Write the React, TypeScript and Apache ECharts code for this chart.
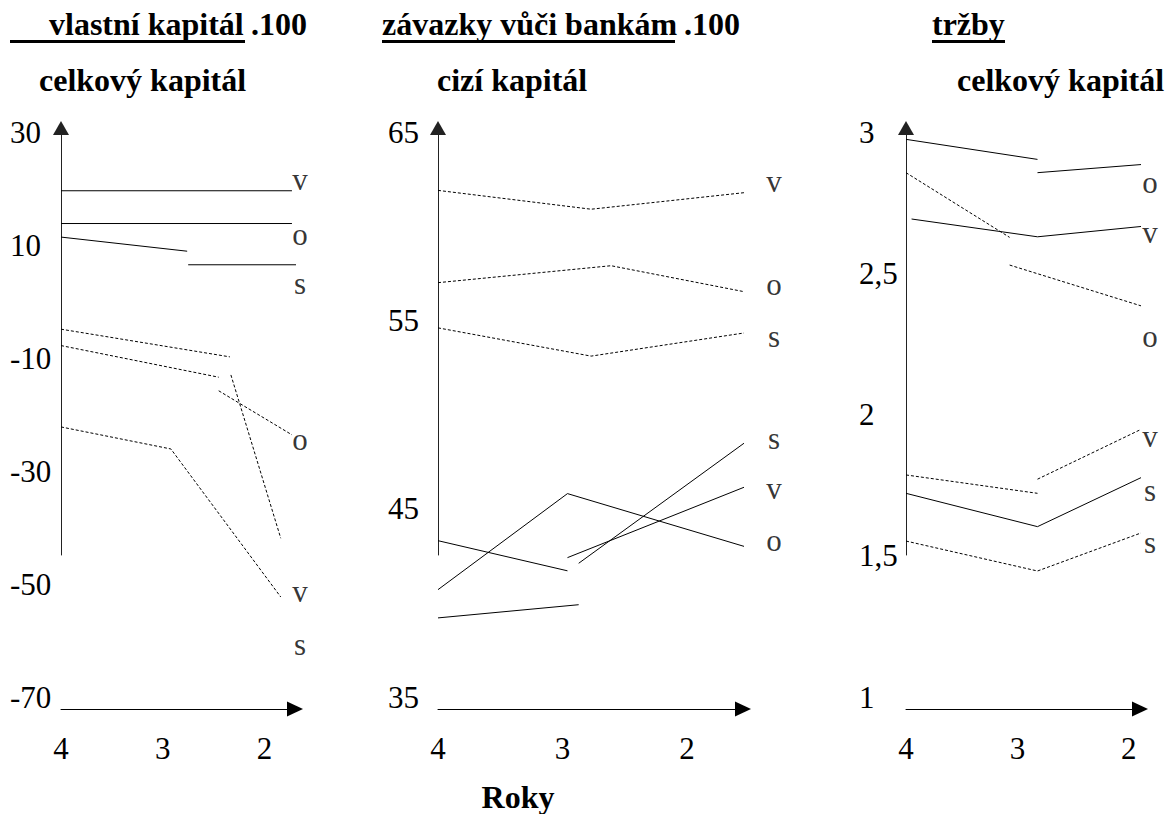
import React, { useEffect, useRef } from "react";
import * as echarts from "echarts";

const FONT = "Liberation Serif, Times New Roman, serif";

// ---- x axis (years, 4 on the left) ----
const yearTicks = [4, 3, 2];

// ---- Panel 1: vlastní kapitál .100 / celkový kapitál ----
const p1Ticks = [30, 10, -10, -30, -50, -70];
const p1SolidV = [[4, 19.6], [1.73, 19.6]];
const p1SolidO = [[4, 13.8], [1.73, 13.8]];
const p1SolidS1 = [[4, 11.4], [2.76, 8.9]];
const p1SolidS2 = [[2.75, 6.5], [1.63, 6.5]];
const p1DashA = [[4, -4.9], [2.34, -9.8]];
const p1DashB = [[4, -7.8], [2.45, -13.4]];
const p1DashO = [[2.45, -15.8], [1.73, -23.6]];
const p1DashD = [[2.33, -13.0], [1.84, -41.9]];
const p1DashV = [[4, -22.2], [2.92, -26.1], [1.84, -52.3]];
const p1Labels = [
  [1.65, 21.0, "v"], [1.65, 11.4, "o"], [1.65, 2.6, "s"],
  [1.65, -24.9, "o"], [1.65, -51.9, "v"], [1.65, -61.3, "s"],
];

// ---- Panel 2: závazky vůči bankám .100 / cizí kapitál ----
const p2Ticks = [65, 55, 45, 35];
const p2DashV = [[4, 61.9], [2.77, 60.9], [1.37, 61.9]];
const p2DashO = [[4, 57.0], [2.61, 57.9], [1.37, 56.3]];
const p2DashS = [[4, 54.6], [2.77, 53.1], [1.37, 54.5]];
const p2Solid1 = [[4, 43.3], [2.96, 41.7]];
const p2SolidV = [[2.96, 42.4], [1.29, 46.8]];
const p2SolidO = [[4, 40.7], [2.96, 45.8], [1.29, 42.5]];
const p2Solid4 = [[4, 39.2], [2.87, 39.9]];
const p2SolidS = [[2.87, 42.1], [1.37, 49.3]];
const p2Labels = [
  [1.3, 62.2, "v"], [1.3, 56.75, "o"], [1.3, 54.0, "s"],
  [1.3, 48.55, "s"], [1.3, 45.9, "v"], [1.3, 43.15, "o"],
];

// ---- Panel 3: tržby / celkový kapitál ----
const p3Ticks = [3, 2.5, 2, 1.5, 1];
const p3SolidTop1 = [[4, 2.974], [2.82, 2.903]];
const p3SolidTop2 = [[2.82, 2.856], [1.69, 2.891]];
const p3Dash1 = [[4, 2.856], [3.07, 2.627]];
const p3Dash2 = [[3.07, 2.529], [1.69, 2.36]];
const p3SolidV = [[3.95, 2.692], [2.82, 2.629], [1.6, 2.677]];
const p3DashV = [[2.82, 1.771], [1.84, 1.957]];
const p3Dash3 = [[4, 1.786], [2.82, 1.721]];
const p3SolidS = [[4, 1.721], [2.82, 1.603], [1.84, 1.786]];
const p3DashS = [[4, 1.552], [2.82, 1.446], [1.84, 1.588]];
const p3Labels = [
  [1.81, 2.812, "o"], [1.81, 2.635, "v"], [1.81, 2.266, "o"],
  [1.81, 1.91, "v"], [1.81, 1.721, "s"], [1.81, 1.538, "s"],
];

const panelSolid = [
  [p1SolidV, p1SolidO, p1SolidS1, p1SolidS2],
  [p2Solid1, p2SolidV, p2SolidO, p2Solid4, p2SolidS],
  [p3SolidTop1, p3SolidTop2, p3SolidV, p3SolidS],
];
const panelDashed = [
  [p1DashA, p1DashB, p1DashO, p1DashD, p1DashV],
  [p2DashV, p2DashO, p2DashS],
  [p3Dash1, p3Dash2, p3DashV, p3Dash3, p3DashS],
];
const panelLabels = [p1Labels, p2Labels, p3Labels];
const panelTicks = [p1Ticks, p2Ticks, p3Ticks];

// layout (pixels) of each panel
const layout = [
  { left: 61, width: 234, xMin: 1.7, yMin: -70, yMax: 30, labelMargin: 51 },
  { left: 438, width: 305, xMin: 1.55, yMin: 35, yMax: 65, labelMargin: 50 },
  { left: 906, width: 234, xMin: 1.9, yMin: 1, yMax: 3, labelMargin: 47 },
];
const GRID_TOP = 132;
const GRID_BOTTOM = 697;
const AXIS_TOP = 128;
const AXIS_END = 555;

function buildOption() {
  const grid: any[] = [];
  const xAxis: any[] = [];
  const yAxis: any[] = [];
  const series: any[] = [];

  layout.forEach((L, i) => {
    grid.push({
      left: L.left, top: GRID_TOP, width: L.width, height: GRID_BOTTOM - GRID_TOP,
      containLabel: false, outerBoundsMode: "none",
    });
    xAxis.push({
      type: "value", gridIndex: i, inverse: true, min: L.xMin, max: 4, offset: 12,
      axisLine: {
        show: true, onZero: false, symbol: ["none", "triangle"], symbolSize: [15, 16],
        lineStyle: { color: "#000", width: 1 },
      },
      axisTick: { show: false },
      splitLine: { show: false },
      axisLabel: {
        customValues: yearTicks, margin: 24, fontSize: 31, fontFamily: FONT, color: "#000",
        formatter: (v: number) => String(v),
      },
    });
    yAxis.push({
      type: "value", gridIndex: i, min: L.yMin, max: L.yMax,
      axisLine: { show: false },
      axisTick: { show: false },
      splitLine: { show: false },
      axisLabel: {
        customValues: panelTicks[i], align: "left", margin: L.labelMargin,
        fontSize: 31, fontFamily: FONT, color: "#000",
        formatter: (v: number) => String(v).replace(".", ","),
      },
    });
  });

  // vertical axis lines with arrows (shorter than the plot area)
  layout.forEach((L, i) => {
    grid.push({
      left: L.left, top: AXIS_TOP, width: L.width, height: AXIS_END - AXIS_TOP,
      containLabel: false, outerBoundsMode: "none",
    });
    xAxis.push({ type: "value", gridIndex: 3 + i, show: false, min: 0, max: 1 });
    yAxis.push({
      type: "value", gridIndex: 3 + i, min: 0, max: 1,
      axisLine: {
        show: true, onZero: false, symbol: ["none", "triangle"], symbolSize: [16, 14],
        lineStyle: { color: "#222", width: 1 },
      },
      axisTick: { show: false },
      splitLine: { show: false },
      axisLabel: { show: false },
    });
  });

  const line = (data: number[][], i: number, dashed: boolean) => ({
    type: "line", xAxisIndex: i, yAxisIndex: i, data, symbol: "none", clip: false,
    silent: true,
    lineStyle: { color: "#000", width: 1, type: dashed ? [3, 2] : "solid" },
  });

  for (let i = 0; i < 3; i++) {
    panelSolid[i].forEach((d) => series.push(line(d, i, false)));
    panelDashed[i].forEach((d) => series.push(line(d, i, true)));
    series.push({
      type: "scatter", xAxisIndex: i, yAxisIndex: i, clip: false, silent: true,
      data: panelLabels[i], symbolSize: 1, itemStyle: { color: "rgba(0,0,0,0)" },
      label: {
        show: true, position: "inside", offset: [0, -3],
        formatter: (p: any) => p.value[2],
        fontSize: 31, fontFamily: FONT, color: "#000",
      },
    });
  }

  const txt = (text: string, x: number, y: number, align = "left") => ({
    type: "text", x, y, silent: true,
    style: {
      text, fill: "#000", fontFamily: FONT, fontWeight: "bold", fontSize: 32,
      align, textAlign: align, verticalAlign: "middle", textVerticalAlign: "middle",
    },
  });
  const underline = (x1: number, x2: number) => ({
    type: "rect", silent: true, shape: { x: x1, y: 40, width: x2 - x1, height: 3 }, style: { fill: "#000" },
  });

  const graphic = [
    txt("vlastní kapitál", 49, 24), txt(".100", 251, 24), underline(10, 245),
    txt("celkový kapitál", 39, 80),
    txt("závazky vůči bankám", 382, 24), txt(".100", 684, 24), underline(382, 675),
    txt("cizí kapitál", 437, 80),
    txt("tržby", 932, 24), underline(932, 1005),
    txt("celkový kapitál", 957, 80),
    txt("Roky", 518, 797, "center"),
  ];

  return {
    animation: false,
    backgroundColor: "#fff",
    textStyle: { fontFamily: FONT },
    grid, xAxis, yAxis, series, graphic,
  };
}

export default function App() {
  const ref = useRef<HTMLDivElement>(null);
  useEffect(() => {
    document.body.style.margin = "0";
    const chart = echarts.init(ref.current!, null, { renderer: "svg" });
    chart.setOption(buildOption() as any);
    return () => chart.dispose();
  }, []);
  return (
    <div
      ref={ref}
      style={{ position: "fixed", left: 0, top: 0, width: 1176, height: 814, background: "#fff" }}
    />
  );
}
